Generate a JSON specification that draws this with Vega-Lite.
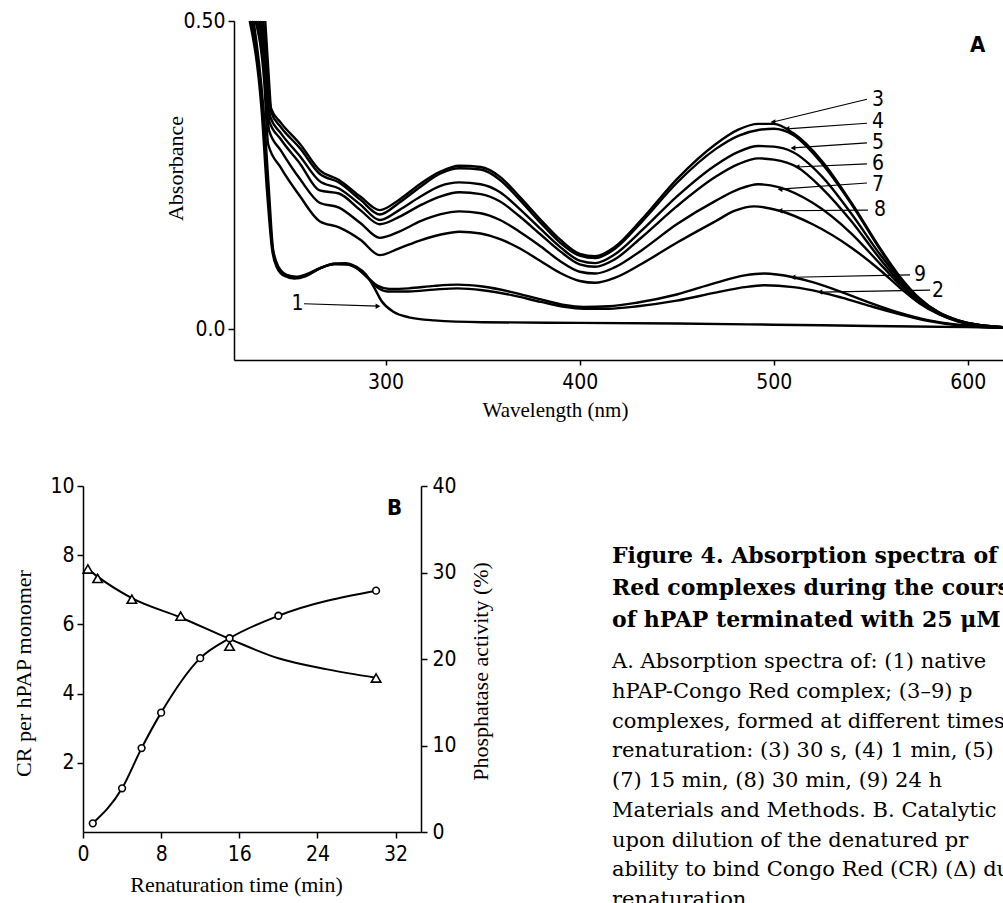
{
"$schema": "https://vega.github.io/schema/vega-lite/v6.json",
"width": 1003, "height": 903, "padding": 0,
"autosize": {"type": "none"},
"background": "white",
"config": {
  "view": {"stroke": null},
  "axis": {"grid": false, "domainColor": "black", "domainWidth": 1.5, "tickColor": "black", "tickWidth": 1.5, "labelColor": "black", "titleColor": "black", "labelFont": "DejaVu Sans Condensed, DejaVu Sans", "labelFontSize": 21, "titleFont": "Liberation Serif", "titleFontSize": 22, "titleFontWeight": "normal", "labelFlush": false, "labelOverlap": false}
},
"datasets": {
  "spectra": [
    {"curve":"1","wavelength":230,"absorbance":0.5},{"curve":"1","wavelength":236,"absorbance":0.36},{"curve":"1","wavelength":239,"absorbance":0.22},{"curve":"1","wavelength":241.5,"absorbance":0.13},{"curve":"1","wavelength":244,"absorbance":0.1},{"curve":"1","wavelength":248,"absorbance":0.086},{"curve":"1","wavelength":253,"absorbance":0.082},{"curve":"1","wavelength":259,"absorbance":0.086},{"curve":"1","wavelength":266,"absorbance":0.098},{"curve":"1","wavelength":273,"absorbance":0.106},{"curve":"1","wavelength":279,"absorbance":0.107},{"curve":"1","wavelength":285,"absorbance":0.101},{"curve":"1","wavelength":290,"absorbance":0.088},{"curve":"1","wavelength":294,"absorbance":0.068},{"curve":"1","wavelength":298,"absorbance":0.045},{"curve":"1","wavelength":304,"absorbance":0.028},{"curve":"1","wavelength":312,"absorbance":0.019},{"curve":"1","wavelength":325,"absorbance":0.014},{"curve":"1","wavelength":350,"absorbance":0.011},{"curve":"1","wavelength":400,"absorbance":0.01},{"curve":"1","wavelength":450,"absorbance":0.009},{"curve":"1","wavelength":500,"absorbance":0.007},{"curve":"1","wavelength":550,"absorbance":0.005},{"curve":"1","wavelength":600,"absorbance":0.003},{"curve":"1","wavelength":618,"absorbance":0.002},
    {"curve":"2","wavelength":231,"absorbance":0.5},{"curve":"2","wavelength":236.5,"absorbance":0.36},{"curve":"2","wavelength":239.5,"absorbance":0.22},{"curve":"2","wavelength":241.8,"absorbance":0.13},{"curve":"2","wavelength":244.5,"absorbance":0.1},{"curve":"2","wavelength":248.5,"absorbance":0.087},{"curve":"2","wavelength":253.5,"absorbance":0.083},{"curve":"2","wavelength":259.5,"absorbance":0.088},{"curve":"2","wavelength":266.5,"absorbance":0.099},{"curve":"2","wavelength":273.5,"absorbance":0.105},{"curve":"2","wavelength":279.5,"absorbance":0.105},{"curve":"2","wavelength":285.5,"absorbance":0.098},{"curve":"2","wavelength":290.5,"absorbance":0.084},{"curve":"2","wavelength":295.5,"absorbance":0.068},{"curve":"2","wavelength":301,"absorbance":0.061},{"curve":"2","wavelength":312,"absorbance":0.061},{"curve":"2","wavelength":325,"absorbance":0.064},{"curve":"2","wavelength":337,"absorbance":0.066},{"curve":"2","wavelength":350,"absorbance":0.063},{"curve":"2","wavelength":365,"absorbance":0.055},{"curve":"2","wavelength":380,"absorbance":0.044},{"curve":"2","wavelength":392,"absorbance":0.036},{"curve":"2","wavelength":402,"absorbance":0.033},{"curve":"2","wavelength":415,"absorbance":0.033},{"curve":"2","wavelength":430,"absorbance":0.037},{"curve":"2","wavelength":450,"absorbance":0.046},{"curve":"2","wavelength":470,"absorbance":0.059},{"curve":"2","wavelength":485,"absorbance":0.068},{"curve":"2","wavelength":495,"absorbance":0.071},{"curve":"2","wavelength":510,"absorbance":0.068},{"curve":"2","wavelength":524,"absorbance":0.06},{"curve":"2","wavelength":535,"absorbance":0.051},{"curve":"2","wavelength":550,"absorbance":0.037},{"curve":"2","wavelength":565,"absorbance":0.024},{"curve":"2","wavelength":580,"absorbance":0.013},{"curve":"2","wavelength":595,"absorbance":0.006},{"curve":"2","wavelength":618,"absorbance":0.002},
    {"curve":"9","wavelength":232,"absorbance":0.5},{"curve":"9","wavelength":237,"absorbance":0.36},{"curve":"9","wavelength":240,"absorbance":0.22},{"curve":"9","wavelength":242,"absorbance":0.13},{"curve":"9","wavelength":245,"absorbance":0.1},{"curve":"9","wavelength":249,"absorbance":0.088},{"curve":"9","wavelength":254,"absorbance":0.085},{"curve":"9","wavelength":260,"absorbance":0.09},{"curve":"9","wavelength":267,"absorbance":0.1},{"curve":"9","wavelength":274,"absorbance":0.106},{"curve":"9","wavelength":280,"absorbance":0.105},{"curve":"9","wavelength":286,"absorbance":0.097},{"curve":"9","wavelength":291,"absorbance":0.083},{"curve":"9","wavelength":296,"absorbance":0.07},{"curve":"9","wavelength":302,"absorbance":0.065},{"curve":"9","wavelength":312,"absorbance":0.066},{"curve":"9","wavelength":325,"absorbance":0.07},{"curve":"9","wavelength":337,"absorbance":0.072},{"curve":"9","wavelength":350,"absorbance":0.069},{"curve":"9","wavelength":365,"absorbance":0.06},{"curve":"9","wavelength":380,"absorbance":0.048},{"curve":"9","wavelength":392,"absorbance":0.039},{"curve":"9","wavelength":402,"absorbance":0.036},{"curve":"9","wavelength":415,"absorbance":0.037},{"curve":"9","wavelength":430,"absorbance":0.043},{"curve":"9","wavelength":450,"absorbance":0.056},{"curve":"9","wavelength":470,"absorbance":0.075},{"curve":"9","wavelength":485,"absorbance":0.087},{"curve":"9","wavelength":495,"absorbance":0.09},{"curve":"9","wavelength":510,"absorbance":0.084},{"curve":"9","wavelength":520,"absorbance":0.076},{"curve":"9","wavelength":535,"absorbance":0.06},{"curve":"9","wavelength":550,"absorbance":0.042},{"curve":"9","wavelength":565,"absorbance":0.026},{"curve":"9","wavelength":580,"absorbance":0.014},{"curve":"9","wavelength":595,"absorbance":0.007},{"curve":"9","wavelength":618,"absorbance":0.002},
    {"curve":"3","wavelength":238,"absorbance":0.5},{"curve":"3","wavelength":240,"absorbance":0.4},{"curve":"3","wavelength":241,"absorbance":0.358},{"curve":"3","wavelength":246,"absorbance":0.335},{"curve":"3","wavelength":256,"absorbance":0.3},{"curve":"3","wavelength":266,"absorbance":0.258},{"curve":"3","wavelength":276,"absorbance":0.242},{"curve":"3","wavelength":287,"absorbance":0.215},{"curve":"3","wavelength":297,"absorbance":0.193},{"curve":"3","wavelength":307,"absorbance":0.21},{"curve":"3","wavelength":318,"absorbance":0.236},{"curve":"3","wavelength":328,"absorbance":0.255},{"curve":"3","wavelength":338,"absorbance":0.265},{"curve":"3","wavelength":349,"absorbance":0.263},{"curve":"3","wavelength":359,"absorbance":0.247},{"curve":"3","wavelength":369,"absorbance":0.215},{"curve":"3","wavelength":380,"absorbance":0.177},{"curve":"3","wavelength":390,"absorbance":0.145},{"curve":"3","wavelength":400,"absorbance":0.122},{"curve":"3","wavelength":408,"absorbance":0.118},{"curve":"3","wavelength":418,"absorbance":0.133},{"curve":"3","wavelength":432,"absorbance":0.178},{"curve":"3","wavelength":450,"absorbance":0.243},{"curve":"3","wavelength":470,"absorbance":0.3},{"curve":"3","wavelength":482,"absorbance":0.324},{"curve":"3","wavelength":492,"absorbance":0.333},{"curve":"3","wavelength":500,"absorbance":0.333},{"curve":"3","wavelength":510,"absorbance":0.318},{"curve":"3","wavelength":525,"absorbance":0.272},{"curve":"3","wavelength":540,"absorbance":0.205},{"curve":"3","wavelength":555,"absorbance":0.13},{"curve":"3","wavelength":565,"absorbance":0.085},{"curve":"3","wavelength":575,"absorbance":0.05},{"curve":"3","wavelength":585,"absorbance":0.027},{"curve":"3","wavelength":595,"absorbance":0.014},{"curve":"3","wavelength":605,"absorbance":0.007},{"curve":"3","wavelength":618,"absorbance":0.003},
    {"curve":"4","wavelength":237,"absorbance":0.5},{"curve":"4","wavelength":239.5,"absorbance":0.4},{"curve":"4","wavelength":241,"absorbance":0.352},{"curve":"4","wavelength":246,"absorbance":0.328},{"curve":"4","wavelength":256,"absorbance":0.293},{"curve":"4","wavelength":266,"absorbance":0.252},{"curve":"4","wavelength":276,"absorbance":0.238},{"curve":"4","wavelength":287,"absorbance":0.21},{"curve":"4","wavelength":297,"absorbance":0.186},{"curve":"4","wavelength":307,"absorbance":0.205},{"curve":"4","wavelength":318,"absorbance":0.231},{"curve":"4","wavelength":328,"absorbance":0.252},{"curve":"4","wavelength":338,"absorbance":0.261},{"curve":"4","wavelength":349,"absorbance":0.259},{"curve":"4","wavelength":359,"absorbance":0.242},{"curve":"4","wavelength":369,"absorbance":0.21},{"curve":"4","wavelength":380,"absorbance":0.172},{"curve":"4","wavelength":390,"absorbance":0.14},{"curve":"4","wavelength":400,"absorbance":0.119},{"curve":"4","wavelength":408,"absorbance":0.115},{"curve":"4","wavelength":418,"absorbance":0.13},{"curve":"4","wavelength":432,"absorbance":0.174},{"curve":"4","wavelength":450,"absorbance":0.237},{"curve":"4","wavelength":470,"absorbance":0.292},{"curve":"4","wavelength":482,"absorbance":0.314},{"curve":"4","wavelength":492,"absorbance":0.323},{"curve":"4","wavelength":500,"absorbance":0.325},{"curve":"4","wavelength":510,"absorbance":0.315},{"curve":"4","wavelength":525,"absorbance":0.268},{"curve":"4","wavelength":540,"absorbance":0.203},{"curve":"4","wavelength":555,"absorbance":0.128},{"curve":"4","wavelength":565,"absorbance":0.083},{"curve":"4","wavelength":575,"absorbance":0.049},{"curve":"4","wavelength":585,"absorbance":0.027},{"curve":"4","wavelength":595,"absorbance":0.014},{"curve":"4","wavelength":605,"absorbance":0.007},{"curve":"4","wavelength":618,"absorbance":0.003},
    {"curve":"5","wavelength":236,"absorbance":0.5},{"curve":"5","wavelength":239,"absorbance":0.4},{"curve":"5","wavelength":240.5,"absorbance":0.345},{"curve":"5","wavelength":246,"absorbance":0.318},{"curve":"5","wavelength":256,"absorbance":0.28},{"curve":"5","wavelength":266,"absorbance":0.24},{"curve":"5","wavelength":276,"absorbance":0.228},{"curve":"5","wavelength":287,"absorbance":0.202},{"curve":"5","wavelength":297,"absorbance":0.177},{"curve":"5","wavelength":307,"absorbance":0.193},{"curve":"5","wavelength":318,"absorbance":0.215},{"curve":"5","wavelength":328,"absorbance":0.232},{"curve":"5","wavelength":338,"absorbance":0.238},{"curve":"5","wavelength":349,"absorbance":0.235},{"curve":"5","wavelength":359,"absorbance":0.222},{"curve":"5","wavelength":369,"absorbance":0.195},{"curve":"5","wavelength":380,"absorbance":0.162},{"curve":"5","wavelength":390,"absorbance":0.133},{"curve":"5","wavelength":400,"absorbance":0.111},{"curve":"5","wavelength":408,"absorbance":0.107},{"curve":"5","wavelength":418,"absorbance":0.121},{"curve":"5","wavelength":432,"absorbance":0.16},{"curve":"5","wavelength":450,"absorbance":0.215},{"curve":"5","wavelength":470,"absorbance":0.266},{"curve":"5","wavelength":482,"absorbance":0.288},{"curve":"5","wavelength":492,"absorbance":0.297},{"curve":"5","wavelength":500,"absorbance":0.296},{"curve":"5","wavelength":510,"absorbance":0.287},{"curve":"5","wavelength":525,"absorbance":0.247},{"curve":"5","wavelength":540,"absorbance":0.187},{"curve":"5","wavelength":555,"absorbance":0.12},{"curve":"5","wavelength":565,"absorbance":0.08},{"curve":"5","wavelength":575,"absorbance":0.047},{"curve":"5","wavelength":585,"absorbance":0.026},{"curve":"5","wavelength":595,"absorbance":0.013},{"curve":"5","wavelength":605,"absorbance":0.007},{"curve":"5","wavelength":618,"absorbance":0.003},
    {"curve":"6","wavelength":235,"absorbance":0.5},{"curve":"6","wavelength":238.5,"absorbance":0.4},{"curve":"6","wavelength":240,"absorbance":0.338},{"curve":"6","wavelength":246,"absorbance":0.308},{"curve":"6","wavelength":256,"absorbance":0.268},{"curve":"6","wavelength":266,"absorbance":0.225},{"curve":"6","wavelength":276,"absorbance":0.22},{"curve":"6","wavelength":287,"absorbance":0.193},{"curve":"6","wavelength":297,"absorbance":0.17},{"curve":"6","wavelength":307,"absorbance":0.182},{"curve":"6","wavelength":318,"absorbance":0.201},{"curve":"6","wavelength":328,"absorbance":0.215},{"curve":"6","wavelength":338,"absorbance":0.222},{"curve":"6","wavelength":349,"absorbance":0.219},{"curve":"6","wavelength":359,"absorbance":0.207},{"curve":"6","wavelength":369,"absorbance":0.183},{"curve":"6","wavelength":380,"absorbance":0.153},{"curve":"6","wavelength":390,"absorbance":0.126},{"curve":"6","wavelength":400,"absorbance":0.105},{"curve":"6","wavelength":408,"absorbance":0.101},{"curve":"6","wavelength":418,"absorbance":0.113},{"curve":"6","wavelength":432,"absorbance":0.149},{"curve":"6","wavelength":450,"absorbance":0.199},{"curve":"6","wavelength":470,"absorbance":0.247},{"curve":"6","wavelength":482,"absorbance":0.268},{"curve":"6","wavelength":492,"absorbance":0.277},{"curve":"6","wavelength":500,"absorbance":0.275},{"curve":"6","wavelength":512,"absorbance":0.263},{"curve":"6","wavelength":525,"absorbance":0.228},{"curve":"6","wavelength":540,"absorbance":0.175},{"curve":"6","wavelength":555,"absorbance":0.113},{"curve":"6","wavelength":565,"absorbance":0.076},{"curve":"6","wavelength":575,"absorbance":0.045},{"curve":"6","wavelength":585,"absorbance":0.025},{"curve":"6","wavelength":595,"absorbance":0.013},{"curve":"6","wavelength":605,"absorbance":0.006},{"curve":"6","wavelength":618,"absorbance":0.003},
    {"curve":"7","wavelength":234,"absorbance":0.5},{"curve":"7","wavelength":238,"absorbance":0.4},{"curve":"7","wavelength":240,"absorbance":0.322},{"curve":"7","wavelength":246,"absorbance":0.29},{"curve":"7","wavelength":256,"absorbance":0.243},{"curve":"7","wavelength":266,"absorbance":0.205},{"curve":"7","wavelength":276,"absorbance":0.197},{"curve":"7","wavelength":287,"absorbance":0.172},{"curve":"7","wavelength":297,"absorbance":0.148},{"curve":"7","wavelength":307,"absorbance":0.158},{"curve":"7","wavelength":318,"absorbance":0.175},{"curve":"7","wavelength":328,"absorbance":0.186},{"curve":"7","wavelength":338,"absorbance":0.191},{"curve":"7","wavelength":349,"absorbance":0.188},{"curve":"7","wavelength":359,"absorbance":0.177},{"curve":"7","wavelength":369,"absorbance":0.158},{"curve":"7","wavelength":380,"absorbance":0.134},{"curve":"7","wavelength":390,"absorbance":0.11},{"curve":"7","wavelength":400,"absorbance":0.093},{"curve":"7","wavelength":408,"absorbance":0.09},{"curve":"7","wavelength":418,"absorbance":0.1},{"curve":"7","wavelength":432,"absorbance":0.128},{"curve":"7","wavelength":450,"absorbance":0.17},{"curve":"7","wavelength":470,"absorbance":0.208},{"curve":"7","wavelength":482,"absorbance":0.227},{"curve":"7","wavelength":492,"absorbance":0.235},{"curve":"7","wavelength":503,"absorbance":0.23},{"curve":"7","wavelength":520,"absorbance":0.205},{"curve":"7","wavelength":540,"absorbance":0.155},{"curve":"7","wavelength":555,"absorbance":0.105},{"curve":"7","wavelength":565,"absorbance":0.072},{"curve":"7","wavelength":575,"absorbance":0.044},{"curve":"7","wavelength":585,"absorbance":0.025},{"curve":"7","wavelength":595,"absorbance":0.013},{"curve":"7","wavelength":605,"absorbance":0.006},{"curve":"7","wavelength":618,"absorbance":0.003},
    {"curve":"8","wavelength":233,"absorbance":0.5},{"curve":"8","wavelength":237.5,"absorbance":0.4},{"curve":"8","wavelength":239.5,"absorbance":0.3},{"curve":"8","wavelength":246,"absorbance":0.262},{"curve":"8","wavelength":256,"absorbance":0.215},{"curve":"8","wavelength":266,"absorbance":0.175},{"curve":"8","wavelength":276,"absorbance":0.165},{"curve":"8","wavelength":287,"absorbance":0.145},{"curve":"8","wavelength":297,"absorbance":0.12},{"curve":"8","wavelength":307,"absorbance":0.131},{"curve":"8","wavelength":318,"absorbance":0.144},{"curve":"8","wavelength":328,"absorbance":0.153},{"curve":"8","wavelength":338,"absorbance":0.158},{"curve":"8","wavelength":349,"absorbance":0.155},{"curve":"8","wavelength":359,"absorbance":0.146},{"curve":"8","wavelength":369,"absorbance":0.131},{"curve":"8","wavelength":380,"absorbance":0.11},{"curve":"8","wavelength":390,"absorbance":0.091},{"curve":"8","wavelength":400,"absorbance":0.078},{"curve":"8","wavelength":408,"absorbance":0.075},{"curve":"8","wavelength":418,"absorbance":0.083},{"curve":"8","wavelength":432,"absorbance":0.106},{"curve":"8","wavelength":450,"absorbance":0.14},{"curve":"8","wavelength":470,"absorbance":0.175},{"curve":"8","wavelength":480,"absorbance":0.192},{"curve":"8","wavelength":490,"absorbance":0.199},{"curve":"8","wavelength":503,"absorbance":0.192},{"curve":"8","wavelength":520,"absorbance":0.17},{"curve":"8","wavelength":540,"absorbance":0.132},{"curve":"8","wavelength":555,"absorbance":0.095},{"curve":"8","wavelength":565,"absorbance":0.067},{"curve":"8","wavelength":575,"absorbance":0.042},{"curve":"8","wavelength":585,"absorbance":0.024},{"curve":"8","wavelength":595,"absorbance":0.012},{"curve":"8","wavelength":605,"absorbance":0.006},{"curve":"8","wavelength":618,"absorbance":0.003}
  ],
  "labels": [
    {"curve":"3","textNm":550.6,"textA":0.372,"fromNm":548.0,"fromA":0.373,"tipNm":499.6,"tipA":0.336,"dir":"left"},
    {"curve":"4","textNm":550.6,"textA":0.336,"fromNm":548.0,"fromA":0.334,"tipNm":506.8,"tipA":0.325,"dir":"left"},
    {"curve":"5","textNm":550.6,"textA":0.302,"fromNm":548.0,"fromA":0.302,"tipNm":509.9,"tipA":0.294,"dir":"left"},
    {"curve":"6","textNm":550.6,"textA":0.268,"fromNm":548.0,"fromA":0.268,"tipNm":512.0,"tipA":0.263,"dir":"left"},
    {"curve":"7","textNm":550.6,"textA":0.234,"fromNm":548.0,"fromA":0.237,"tipNm":503.2,"tipA":0.227,"dir":"left"},
    {"curve":"8","textNm":551.6,"textA":0.193,"fromNm":548.5,"fromA":0.193,"tipNm":503.2,"tipA":0.192,"dir":"left"},
    {"curve":"9","textNm":572.2,"textA":0.087,"fromNm":570.2,"fromA":0.088,"tipNm":509.9,"tipA":0.084,"dir":"left"},
    {"curve":"2","textNm":581.5,"textA":0.062,"fromNm":580.5,"fromA":0.063,"tipNm":523.8,"tipA":0.06,"dir":"left"},
    {"curve":"1","textNm":251.5,"textA":0.041,"fromNm":258.0,"fromA":0.041,"tipNm":296.1,"tipA":0.037,"dir":"right"}
  ],
  "crPoints": [
    {"time":0.5,"cr":7.6},{"time":1.5,"cr":7.33},{"time":5,"cr":6.73},{"time":10,"cr":6.24},{"time":15,"cr":5.37},{"time":30,"cr":4.45}
  ],
  "crCurve": [
    {"time":0.5,"cr":7.6},{"time":1.5,"cr":7.38},{"time":5,"cr":6.76},{"time":10,"cr":6.2},{"time":15,"cr":5.58},{"time":20,"cr":5.02},{"time":25,"cr":4.7},{"time":30,"cr":4.46}
  ],
  "activity": [
    {"time":1,"activity":1.0},{"time":4,"activity":5.05},{"time":6,"activity":9.7},{"time":8,"activity":13.8},{"time":12,"activity":20.1},{"time":15,"activity":22.4},{"time":20,"activity":25.0},{"time":30,"activity":27.9}
  ],
  "heading": [
    {"line":1,"text":"Figure 4. Absorption spectra of"},
    {"line":2,"text":"Red complexes during the course"},
    {"line":3,"text":"of hPAP terminated with 25 μM"}
  ],
  "body": [
    {"line":1,"text":"A. Absorption spectra of: (1) native"},
    {"line":2,"text":"hPAP-Congo Red complex; (3–9) p"},
    {"line":3,"text":"complexes, formed at different times"},
    {"line":4,"text":"renaturation: (3) 30 s, (4) 1 min, (5)"},
    {"line":5,"text":"(7) 15 min, (8) 30 min, (9) 24 h"},
    {"line":6,"text":"Materials and Methods. B. Catalytic"},
    {"line":7,"text":"upon dilution of the denatured pr"},
    {"line":8,"text":"ability to bind Congo Red (CR) (Δ) during"},
    {"line":9,"text":"renaturation."}
  ]
},
"layer": [
  {
    "layer": [
      {"data": {"name": "spectra"},
       "mark": {"type": "line", "interpolate": "monotone", "color": "black", "strokeWidth": 2.4},
       "encoding": {
         "x": {"field": "wavelength", "type": "quantitative",
               "scale": {"domain": [221.9, 618], "range": [234, 1002.8], "nice": false, "zero": false},
               "axis": {"orient": "bottom", "offset": -543, "values": [300, 400, 500, 600], "tickSize": 5, "labelPadding": 6, "title": "Wavelength (nm)", "titleX": 555, "titleY": 50, "titleBaseline": "middle", "titleAlign": "center", "titleFontSize": 21}},
         "y": {"field": "absorbance", "type": "quantitative",
               "scale": {"domain": [-0.0503, 0.5], "range": [360, 21], "nice": false, "zero": false},
               "axis": {"orient": "left", "offset": -234, "values": [0, 0.5], "labelExpr": "datum.value == 0 ? '0.0' : '0.50'", "tickSize": 6, "labelPadding": 3, "labelBaseline": "middle", "title": "Absorbance", "titleX": -59, "titleY": 168, "titleAngle": 270, "titleBaseline": "middle", "titleAlign": "center"}},
         "detail": {"field": "curve"}
       }},
      {"mark": {"type": "rule", "color": "black", "strokeWidth": 1.5},
       "encoding": {"x": {"datum": 221.9}, "x2": {"datum": 618}, "y": {"datum": 0.5}}},
      {"mark": {"type": "rule", "color": "black", "strokeWidth": 1.5, "strokeDash": [14, 8]},
       "encoding": {"x": {"datum": 221.9}, "x2": {"datum": 618}, "y": {"datum": 0}}},
      {"data": {"name": "labels"},
       "mark": {"type": "rule", "color": "black", "strokeWidth": 1.2},
       "encoding": {"x": {"field": "fromNm", "type": "quantitative"}, "y": {"field": "fromA", "type": "quantitative"}, "x2": {"field": "tipNm"}, "y2": {"field": "tipA"}}},
      {"data": {"name": "labels"},
       "mark": {"type": "point", "filled": true, "color": "black", "size": 30, "opacity": 1},
       "encoding": {"x": {"field": "tipNm", "type": "quantitative"}, "y": {"field": "tipA", "type": "quantitative"},
                    "shape": {"field": "dir", "type": "nominal", "scale": {"domain": ["left", "right"], "range": ["triangle-left", "triangle-right"]}, "legend": null}}},
      {"data": {"name": "labels"},
       "mark": {"type": "text", "align": "left", "baseline": "middle", "font": "DejaVu Sans Condensed, DejaVu Sans", "fontSize": 21, "color": "black"},
       "encoding": {"x": {"field": "textNm", "type": "quantitative"}, "y": {"field": "textA", "type": "quantitative"}, "text": {"field": "curve"}}},
      {"data": {"values": [{"panel": "A"}]},
       "mark": {"type": "text", "align": "center", "baseline": "middle", "font": "DejaVu Sans Condensed, DejaVu Sans", "fontSize": 22, "fontWeight": "bold", "color": "black"},
       "encoding": {"x": {"datum": 605}, "y": {"datum": 0.461}, "text": {"field": "panel", "type": "nominal"}}}
    ]
  },
  {
    "layer": [
      {
        "layer": [
          {"data": {"name": "crCurve"},
           "mark": {"type": "line", "interpolate": "monotone", "color": "black", "strokeWidth": 2},
           "encoding": {
             "x": {"field": "time", "type": "quantitative",
                   "scale": {"domain": [0, 34.6], "range": [83, 421], "nice": false, "zero": false},
                   "axis": {"orient": "bottom", "offset": -71, "values": [0, 8, 16, 24, 32], "tickSize": 6, "labelPadding": 5, "title": "Renaturation time (min)", "titleX": 236, "titleY": 52, "titleBaseline": "middle", "titleAlign": "center"}},
             "y": {"field": "cr", "type": "quantitative",
                   "scale": {"domain": [0, 10], "range": [832, 486], "nice": false, "zero": false},
                   "axis": {"orient": "left", "offset": -83, "values": [2, 4, 6, 8, 10], "format": "d", "tickSize": 6, "labelPadding": 3, "labelBaseline": "middle", "title": "CR per hPAP monomer", "titleX": -60, "titleY": 673, "titleAngle": 270, "titleBaseline": "middle", "titleAlign": "center"}}
           }},
          {"data": {"name": "crPoints"},
           "mark": {"type": "point", "shape": "triangle-up", "filled": true, "fill": "white", "stroke": "black", "strokeWidth": 1.6, "size": 90, "opacity": 1},
           "encoding": {"x": {"field": "time", "type": "quantitative"}, "y": {"field": "cr", "type": "quantitative"}}},
          {"mark": {"type": "rule", "color": "black", "strokeWidth": 1.5},
           "encoding": {"x": {"datum": 0}, "x2": {"datum": 34.6}, "y": {"datum": 10}}},
          {"data": {"values": [{"panel": "B"}]},
           "mark": {"type": "text", "align": "center", "baseline": "middle", "font": "DejaVu Sans Condensed, DejaVu Sans", "fontSize": 22, "fontWeight": "bold", "color": "black"},
           "encoding": {"x": {"datum": 31.9}, "y": {"datum": 9.36}, "text": {"field": "panel", "type": "nominal"}}}
        ]
      },
      {
        "layer": [
          {"data": {"name": "activity"},
           "mark": {"type": "line", "interpolate": "monotone", "color": "black", "strokeWidth": 2},
           "encoding": {
             "x": {"field": "time", "type": "quantitative"},
             "y": {"field": "activity", "type": "quantitative",
                   "scale": {"domain": [0, 40], "range": [832, 486], "nice": false, "zero": false},
                   "axis": {"orient": "right", "offset": -582, "values": [0, 10, 20, 30, 40], "tickSize": 6, "labelPadding": 5, "labelBaseline": "middle", "title": "Phosphatase activity (%)", "titleX": 59, "titleY": 671, "titleAngle": 270, "titleBaseline": "middle", "titleAlign": "center"}}
           }},
          {"data": {"name": "activity"},
           "mark": {"type": "point", "shape": "circle", "filled": true, "fill": "white", "stroke": "black", "strokeWidth": 1.6, "size": 45, "opacity": 1},
           "encoding": {"x": {"field": "time", "type": "quantitative"}, "y": {"field": "activity", "type": "quantitative"}}}
        ]
      }
    ],
    "resolve": {"scale": {"y": "independent"}}
  },
  {
    "data": {"name": "heading"},
    "mark": {"type": "text", "align": "left", "baseline": "middle", "font": "DejaVu Serif", "fontSize": 22, "fontWeight": "bold", "color": "black"},
    "encoding": {
      "x": {"datum": 0, "type": "quantitative", "scale": {"domain": [0, 1], "range": [612, 1000]}, "axis": null},
      "y": {"field": "line", "type": "quantitative", "scale": {"domain": [1, 3], "range": [556, 620], "nice": false, "zero": false}, "axis": null},
      "text": {"field": "text"}
    }
  },
  {
    "data": {"name": "body"},
    "mark": {"type": "text", "align": "left", "baseline": "middle", "font": "DejaVu Serif", "fontSize": 21, "color": "black"},
    "encoding": {
      "x": {"datum": 0, "type": "quantitative", "scale": {"domain": [0, 1], "range": [612, 1000]}, "axis": null},
      "y": {"field": "line", "type": "quantitative", "scale": {"domain": [1, 9], "range": [662, 900], "nice": false, "zero": false}, "axis": null},
      "text": {"field": "text"}
    }
  }
],
"resolve": {"scale": {"x": "independent", "y": "independent"}}
}
